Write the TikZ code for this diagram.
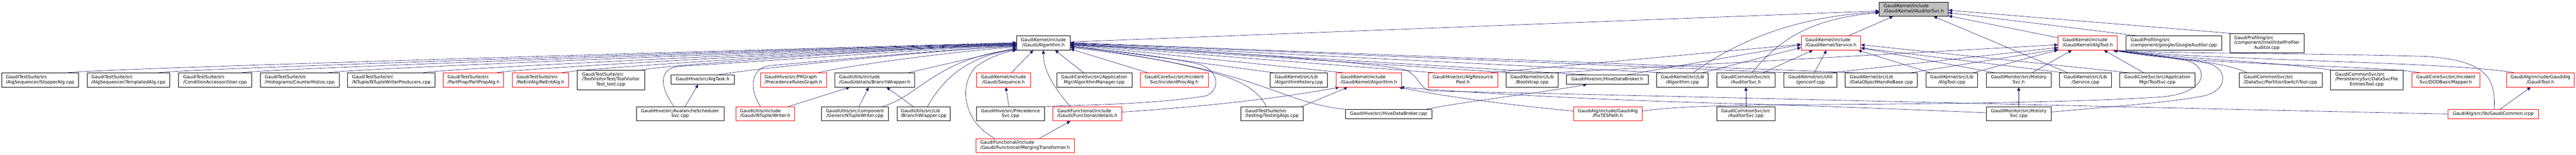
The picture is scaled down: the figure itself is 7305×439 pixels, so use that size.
\documentclass[tikz,border=0pt]{standalone}
\usepackage{fontspec}
\newfontfamily\dvsans{DejaVu Sans}
\usetikzlibrary{arrows.meta,backgrounds}
\definecolor{edgec}{RGB}{25,25,112}
\definecolor{rootfill}{RGB}{191,191,191}
\newcommand{\ttwo}[2]{\begin{tabular}{@{}l@{}}#1\\\multicolumn{1}{@{}c@{}}{#2}\end{tabular}}
\newcommand{\tone}[1]{\begin{tabular}{@{}c@{}}#1\end{tabular}}
\newcommand{\ledge}[3]{\draw[e] ([xshift=#2pt]#1.north) .. controls +(45pt,12pt) and +(-350pt,-10pt) .. ([yshift=#3pt]galg.west);}
\begin{document}
\begin{tikzpicture}[x=1pt,y=1pt,
  box/.style={draw=black, line width=1pt, fill=white, inner sep=0pt, font=\dvsans\fontsize{12.7}{14}\selectfont},
  redbox/.style={box, draw=red},
  rootbox/.style={box, fill=rootfill},
  e/.style={draw=edgec, line width=0.9pt, -{Triangle[length=10pt,width=9pt]}}
]
\useasboundingbox (0,0) rectangle (7305,-439);

% ---------------- nodes ----------------
\node[box, minimum width=217.8pt, minimum height=40pt] (stopper) at (113.6,-227) {\ttwo{GaudiTestSuite/src}{/AlgSequencer/StopperAlg.cpp}};
\node[box, minimum width=234.6pt, minimum height=40pt] (templ) at (364.3,-227) {\ttwo{GaudiTestSuite/src}{/AlgSequencer/TemplatedAlg.cpp}};
\node[box, minimum width=206.6pt, minimum height=40pt] (user) at (609.8,-227) {\ttwo{GaudiTestSuite/src}{/ConditionAccessor/User.cpp}};
\node[box, minimum width=224.5pt, minimum height=40pt] (counter) at (849.9,-227) {\ttwo{GaudiTestSuite/src}{/Histograms/CounterHistos.cpp}};
\node[box, minimum width=248.6pt, minimum height=40pt] (ntuplewp) at (1109.7,-227) {\ttwo{GaudiTestSuite/src}{/NTuple/NTupleWriterProducers.cpp}};
\node[redbox, minimum width=171.2pt, minimum height=40pt] (partprop) at (1342.9,-227) {\ttwo{GaudiTestSuite/src}{/PartProp/PartPropAlg.h}};
\node[redbox, minimum width=159.2pt, minimum height=40pt] (reent) at (1532.2,-227) {\ttwo{GaudiTestSuite/src}{/ReEntAlg/ReEntAlg.h}};
\node[box, minimum width=191.7pt, minimum height=55pt] (toolvisitor) at (1732.2,-226.5) {\ttwo{GaudiTestSuite/src\\/ToolVisitorTest/ToolVisitor}{Test\_test.cpp}};
\node[box, minimum width=247.8pt, minimum height=40pt] (avalanche) at (1928.6,-323) {\ttwo{GaudiHive/src/AvalancheScheduler}{Svc.cpp}};
\node[box, minimum width=178.6pt, minimum height=26pt] (algtask) at (1992.4,-226) {\tone{GaudiHive/src/AlgTask.h}};
\node[redbox, minimum width=166.9pt, minimum height=40pt] (writer) at (2169.9,-323) {\ttwo{GaudiUtils/include}{/Gaudi/NTuple/Writer.h}};
\node[redbox, minimum width=187.1pt, minimum height=40pt] (prgraph) at (2250,-227) {\ttwo{GaudiHive/src/PRGraph}{/PrecedenceRulesGraph.h}};
\node[box, minimum width=226.5pt, minimum height=40pt] (bwh) at (2480.5,-227) {\ttwo{GaudiUtils/include}{/Gaudi/details/BranchWrapper.h}};
\node[box, minimum width=190.6pt, minimum height=40pt] (gntw) at (2424.4,-323) {\ttwo{GaudiUtils/src/component}{/GenericNTupleWriter.cpp}};
\node[box, minimum width=150.5pt, minimum height=40pt] (bwcpp) at (2619.2,-323) {\ttwo{GaudiUtils/src/Lib}{/BranchWrapper.cpp}};
\node[box, minimum width=152.5pt, minimum height=40pt] (galg) at (2959,-122) {\ttwo{GaudiKernel/include}{/Gaudi/Algorithm.h}};
\node[redbox, minimum width=152.5pt, minimum height=40pt] (sequence) at (2845.8,-227) {\ttwo{GaudiKernel/include}{/Gaudi/Sequence.h}};
\node[box, minimum width=192.2pt, minimum height=40pt] (precsvc) at (2865.6,-323) {\ttwo{GaudiHive/src/Precedence}{Svc.cpp}};
\node[redbox, minimum width=194.9pt, minimum height=40pt] (details) at (3083.3,-323) {\ttwo{GaudiFunctional/include}{/Gaudi/Functional/details.h}};
\node[redbox, minimum width=278.1pt, minimum height=40pt] (merging) at (2907,-413) {\ttwo{GaudiFunctional/include}{/Gaudi/Functional/MergingTransformer.h}};
\node[box, minimum width=213.6pt, minimum height=40pt] (algmgr) at (3103.1,-227) {\ttwo{GaudiCoreSvc/src/Application}{Mgr/AlgorithmManager.cpp}};
\node[redbox, minimum width=192.2pt, minimum height=40pt] (incproc) at (3329.7,-227) {\ttwo{GaudiCoreSvc/src/Incident}{Svc/IncidentProcAlg.h}};
\node[box, minimum width=175.8pt, minimum height=40pt] (testing) at (3607.1,-323) {\ttwo{GaudiTestSuite/src}{/testing/TestingAlgs.cpp}};
\node[box, minimum width=162.7pt, minimum height=40pt] (alghist) at (3683,-227) {\ttwo{GaudiKernel/src/Lib}{/AlgorithmHistory.cpp}};
\node[redbox, minimum width=185.1pt, minimum height=40pt] (gkalg) at (3881.8,-227) {\ttwo{GaudiKernel/include}{/GaudiKernel/Algorithm.h}};
\node[redbox, minimum width=197.2pt, minimum height=40pt] (respool) at (4148.4,-227) {\ttwo{GaudiHive/src/AlgResource}{Pool.h}};
\node[box, minimum width=246.3pt, minimum height=26pt] (hdbcpp) at (3937.6,-323.5) {\tone{GaudiHive/src/HiveDataBroker.cpp}};
\node[box, minimum width=146.6pt, minimum height=40pt] (bootstrap) at (4344.5,-227) {\ttwo{GaudiKernel/src/Lib}{/Bootstrap.cpp}};
\node[box, minimum width=232.6pt, minimum height=26pt] (hdbh) at (4557.9,-226) {\tone{GaudiHive/src/HiveDataBroker.h}};
\node[box, minimum width=146.3pt, minimum height=40pt] (algcpp) at (4771,-227) {\ttwo{GaudiKernel/src/Lib}{/Algorithm.cpp}};
\node[redbox, minimum width=194.9pt, minimum height=40pt] (fixtes) at (4559.3,-323) {\ttwo{GaudiAlg/include/GaudiAlg}{/FixTESPath.h}};
\node[box, minimum width=165.4pt, minimum height=40pt] (audh) at (4951,-227) {\ttwo{GaudiCommonSvc/src}{/AuditorSvc.h}};
\node[box, minimum width=165.4pt, minimum height=40pt] (audcpp) at (4951,-323) {\ttwo{GaudiCommonSvc/src}{/AuditorSvc.cpp}};
\node[rootbox, minimum width=195.7pt, minimum height=40pt] (root) at (5427.2,-26) {\ttwo{GaudiKernel/include}{/GaudiKernel/IAuditorSvc.h}};
\node[redbox, minimum width=169.2pt, minimum height=40pt] (serviceh) at (5192.2,-122) {\ttwo{GaudiKernel/include}{/GaudiKernel/Service.h}};
\node[box, minimum width=150.5pt, minimum height=40pt] (genconf) at (5133.9,-227) {\ttwo{GaudiKernel/src/Util}{/genconf.cpp}};
\node[box, minimum width=204.3pt, minimum height=40pt] (dohb) at (5335,-227) {\ttwo{GaudiKernel/src/Lib}{/DataObjectHandleBase.cpp}};
\node[box, minimum width=147.1pt, minimum height=40pt] (atcpp) at (5534.8,-227) {\ttwo{GaudiKernel/src/Lib}{/AlgTool.cpp}};
\node[redbox, minimum width=168.1pt, minimum height=40pt] (algtoolh) at (5920.3,-122) {\ttwo{GaudiKernel/include}{/GaudiKernel/AlgTool.h}};
\node[box, minimum width=271.2pt, minimum height=40pt] (google) at (6164.4,-122) {\ttwo{GaudiProfiling/src}{/component/google/GoogleAuditor.cpp}};
\node[box, minimum width=182.8pt, minimum height=40pt] (histh) at (5724.6,-227) {\ttwo{GaudiMonitor/src/History}{Svc.h}};
\node[box, minimum width=146.7pt, minimum height=40pt] (servcpp) at (5913.9,-227) {\ttwo{GaudiKernel/src/Lib}{/Service.cpp}};
\node[box, minimum width=213.2pt, minimum height=40pt] (toolsvc) at (6117.9,-227) {\ttwo{GaudiCoreSvc/src/Application}{Mgr/ToolSvc.cpp}};
\node[box, minimum width=182.8pt, minimum height=40pt] (histcpp) at (5724.6,-323) {\ttwo{GaudiMonitor/src/History}{Svc.cpp}};
\node[box, minimum width=210.8pt, minimum height=55pt] (intel) at (6428.3,-122.5) {\ttwo{GaudiProfiling/src\\/component/intel/IntelProfiler}{Auditor.cpp}};
\node[box, minimum width=235.3pt, minimum height=40pt] (partsw) at (6467,-227) {\ttwo{GaudiCommonSvc/src}{/DataSvc/PartitionSwitchTool.cpp}};
\node[box, minimum width=205.2pt, minimum height=55pt] (dsfe) at (6711.4,-226.5) {\ttwo{GaudiCommonSvc/src\\/PersistencySvc/DataSvcFile}{EntriesTool.cpp}};
\node[redbox, minimum width=193.7pt, minimum height=40pt] (dod) at (6935.7,-227) {\ttwo{GaudiCoreSvc/src/Incident}{Svc/DODBasicMapper.h}};
\node[redbox, minimum width=192.3pt, minimum height=40pt] (gtool) at (7203.9,-227) {\ttwo{GaudiAlg/include/GaudiAlg}{/GaudiTool.h}};
\node[redbox, minimum width=257.9pt, minimum height=26pt] (gcommon) at (7070.2,-323.5) {\tone{GaudiAlg/src/lib/GaudiCommon.icpp}};

% ---------------- edges ----------------
\begin{pgfonlayer}{background}
\fill[white] (0,0) rectangle (7305,-439);

% into Gaudi/Algorithm.h from the left
\ledge{stopper}{77}{1}
\ledge{templ}{83}{0}
\ledge{user}{74}{-1}
\ledge{counter}{79}{-2}
\ledge{ntuplewp}{88}{-3}
\ledge{partprop}{64}{-4}
\ledge{reent}{59}{-5}
\ledge{toolvisitor}{88}{-6}
\draw[e] ([xshift=44pt]algtask.north) .. controls +(60pt,14pt) and +(-250pt,-15pt) .. ([yshift=-8pt]galg.west);
\draw[e] ([xshift=70pt]prgraph.north) .. controls +(50pt,15pt) and +(-200pt,-15pt) .. ([yshift=-11pt]galg.west);
\draw[e] ([xshift=94pt]bwh.north) -- ([yshift=-14pt]galg.west);
\draw[e] ([xshift=-17pt]avalanche.north) .. controls (1870,-245) and (1866,-192) .. (1930,-188) .. controls (2300,-165) and (2700,-135) .. ([yshift=-7pt]galg.west);
\draw[e] ([xshift=-13pt]writer.north) .. controls (2128,-262) and (2122,-192) .. (2185,-186) .. controls (2450,-162) and (2700,-140) .. ([yshift=-9pt]galg.west);
\draw[e] ([xshift=78pt]gntw.north) .. controls (2610,-270) and (2650,-170) .. ([yshift=-17pt]galg.west);
\draw[e] ([xshift=11pt]bwcpp.north) .. controls (2665,-240) and (2730,-160) .. ([yshift=-19pt]galg.west);
\draw[e] ([xshift=-86pt]merging.north) .. controls (2730,-345) and (2718,-240) .. (2767,-190) .. controls (2800,-165) and (2840,-150) .. ([yshift=-20pt]galg.west);

% into Gaudi/Algorithm.h from below and right
\draw[e] ([xshift=22pt]sequence.north) -- ([xshift=-29pt]galg.south);
\draw[e] ([xshift=-48pt]details.north) .. controls (2990,-250) and (2958,-200) .. (galg.south);
\draw[e] ([xshift=-30pt]algmgr.north) -- ([xshift=33pt]galg.south);
\draw[e] ([xshift=-74pt]incproc.north) -- ([yshift=-17pt]galg.east);
\draw[e] (precsvc.north east) .. controls (3000,-298) and (3250,-300) .. (3420,-272) .. controls (3462,-255) and (3458,-200) .. (3400,-182) .. controls (3300,-160) and (3150,-142) .. ([yshift=-11pt]galg.east);
\draw[e] ([xshift=-16pt]testing.north) .. controls (3560,-245) and (3510,-195) .. ([yshift=-9pt]galg.east);
\draw[e] ([xshift=-69pt]alghist.north) -- ([yshift=-7pt]galg.east);
\draw[e] ([xshift=-124pt]hdbcpp.north) .. controls (3620,-290) and (3580,-195) .. ([yshift=-13pt]galg.east);
\draw[e] ([xshift=-70pt]gkalg.north) -- ([yshift=-5pt]galg.east);
\draw[e] ([xshift=-78pt]respool.north) -- ([yshift=-4pt]galg.east);
\draw[e] ([xshift=-59pt]bootstrap.north) -- ([yshift=-3pt]galg.east);
\draw[e] ([xshift=-51pt]hdbh.north) -- ([yshift=-2pt]galg.east);
\draw[e] ([xshift=-54pt]algcpp.north) -- ([yshift=-1pt]galg.east);
\draw[e] ([xshift=-56pt]genconf.north) -- ([yshift=0pt]galg.east);
\draw[e] ([xshift=-74pt]dohb.north) -- ([yshift=1pt]galg.east);
\draw[e] (gcommon.west) .. controls (6200,-308) and (4700,-272) .. (4060,-258) .. controls (4028,-257) and (4025,-215) .. (3985,-198) .. controls (3900,-178) and (3400,-140) .. ([yshift=-6pt]galg.east);

% into IAuditorSvc.h
\draw[e] ([yshift=3pt]galg.east) -- ([yshift=-5pt]root.west);
\draw[e] ([xshift=30pt]algcpp.north) .. controls (4880,-150) and (5040,-50) .. ([yshift=-8pt]root.west);
\draw[e] ([xshift=16.5pt]audh.north) .. controls (5025,-140) and (5100,-55) .. ([yshift=-10pt]root.west);
\draw[e] ([xshift=49.6pt]serviceh.north) -- ([xshift=-59pt]root.south);
\draw[e] ([xshift=-50pt]servcpp.north) -- ([xshift=56pt]root.south);
\draw[e] ([yshift=15pt]algtoolh.west) -- ([yshift=-19pt]root.east);
\draw[e] ([xshift=-102.5pt]google.north) -- ([yshift=-10pt]root.east);
\draw[e] ([xshift=3pt]intel.north west) -- ([yshift=-3pt]root.east);

% into Service.h
\draw[e] ([xshift=47.7pt]audh.north) -- ([xshift=-51.5pt]serviceh.south);
\draw[e] ([xshift=10.7pt]genconf.north) -- ([xshift=-12.6pt]serviceh.south);
\draw[e] ([xshift=-60pt]atcpp.north) -- ([xshift=77pt]serviceh.south);
\draw[e] ([xshift=71.6pt]respool.north) -- ([yshift=-4pt]serviceh.west);
\draw[e] ([xshift=54.4pt]hdbh.north) -- ([yshift=-5pt]serviceh.west);
\draw[e] ([xshift=55.3pt]algcpp.north) -- ([yshift=-13pt]serviceh.west);
\draw[e] ([xshift=-79.4pt]toolsvc.north) -- ([yshift=-5pt]serviceh.east);
\draw[e] ([xshift=-62pt]servcpp.north) -- ([yshift=-14pt]serviceh.east);
\draw[e] ([xshift=-67pt]histh.north) -- ([yshift=-14pt]serviceh.east);

% into AlgTool.h
\draw[e] ([xshift=57.8pt]bootstrap.north) -- ([yshift=-5pt]algtoolh.west);
\draw[e] ([xshift=57.3pt]genconf.north) -- ([yshift=-13pt]algtoolh.west);
\draw[e] ([xshift=82pt]dohb.north) -- ([yshift=-18pt]algtoolh.west);
\draw[e] ([xshift=60pt]atcpp.north) -- ([yshift=-20pt]algtoolh.west);
\draw[e] ([xshift=37.7pt]histh.north) -- ([xshift=-45pt]algtoolh.south);
\draw[e] ([xshift=-38.5pt]toolsvc.north) -- ([xshift=46pt]algtoolh.south);
\draw[e] ([xshift=-94.7pt]partsw.north) .. controls (6320,-180) and (6200,-168) .. ([xshift=74pt]algtoolh.south);
\draw[e] ([xshift=2pt]dsfe.north west) .. controls (6450,-175) and (6200,-168) .. ([xshift=74pt]algtoolh.south);
\draw[e] ([xshift=-72pt]dod.north) .. controls (6750,-185) and (6200,-185) .. ([xshift=74pt]algtoolh.south);
\draw[e] ([xshift=-72pt]gtool.north) .. controls (6950,-175) and (6300,-172) .. ([xshift=74pt]algtoolh.south);
\draw[e] ([xshift=2.6pt]gcommon.north) .. controls (7078,-220) and (7050,-172) .. (6880,-160) .. controls (6500,-150) and (6150,-152) .. ([xshift=74pt]algtoolh.south);
\draw[e] ([yshift=8pt]fixtes.east) .. controls (4750,-302) and (4900,-298) .. (5100,-297) .. controls (5500,-295) and (5900,-290) .. (6130,-275) .. controls (6270,-262) and (6262,-185) .. (6200,-172) .. controls (6120,-158) and (6040,-150) .. ([xshift=70pt]algtoolh.south);
\draw[e] ([yshift=5pt]histcpp.east) .. controls (5950,-305) and (6150,-292) .. (6250,-272) .. controls (6320,-255) and (6318,-195) .. (6262,-180) .. controls (6180,-165) and (6060,-152) .. ([xshift=72pt]algtoolh.south);

% into GaudiKernel/Algorithm.h
\draw[e] ([yshift=5pt]details.east) .. controls (3450,-300) and (3650,-275) .. ([xshift=-84pt]gkalg.south);
\draw[e] ([xshift=-5pt]testing.north east) -- ([xshift=-60pt]gkalg.south);
\draw[e] ([yshift=8pt]fixtes.west) .. controls (4300,-300) and (4100,-275) .. ([xshift=85pt]gkalg.south);
\draw[e] ([yshift=3pt]histcpp.west) .. controls (5450,-312) and (5100,-298) .. (4880,-293) .. controls (4500,-282) and (4200,-265) .. ([xshift=90pt]gkalg.south);

% remaining short edges
\draw[e] ([xshift=107.5pt]hdbcpp.north) .. controls (4150,-288) and (4380,-262) .. ([xshift=-58pt]hdbh.south);
\draw[e] ([xshift=14.2pt]avalanche.north) -- ([xshift=-12.6pt]algtask.south);
\draw[e] ([xshift=64.7pt]writer.north) -- ([xshift=-70.8pt]bwh.south);
\draw[e] ([xshift=11.6pt]gntw.north) -- ([xshift=-17.2pt]bwh.south);
\draw[e] ([xshift=-29.4pt]bwcpp.north) -- ([xshift=33.4pt]bwh.south);
\draw[e] ([xshift=-4.3pt]precsvc.north) -- ([xshift=6.6pt]sequence.south);
\draw[e] ([xshift=40.7pt]merging.north) -- ([xshift=-48pt]details.south);
\draw[e] (audcpp.north) -- (audh.south);
\draw[e] (histcpp.north) -- (histh.south);
\draw[e] ([xshift=18.8pt]gcommon.north) -- ([xshift=-27.3pt]gtool.south);
\end{pgfonlayer}
\end{tikzpicture}
\end{document}
